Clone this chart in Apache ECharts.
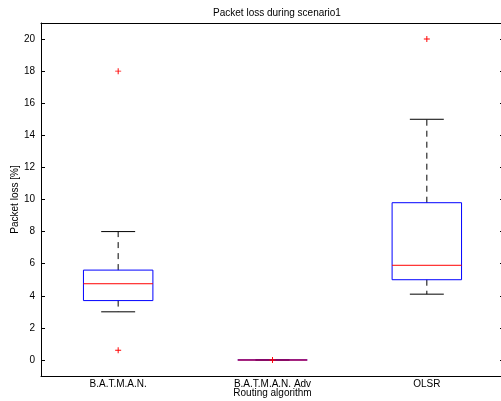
<!DOCTYPE html>
<html>
<head>
    <meta charset="utf-8">
    <title>Packet loss during scenario1</title>
    <script src="https://cdn.jsdelivr.net/npm/echarts@6.0.0/dist/echarts.min.js"></script>
    <style>
        html, body {
            margin: 0;
            padding: 0;
            width: 100%;
            height: 100%;
            overflow: hidden;
            background: #fff;
        }
        #chart {
            width: 501px;
            height: 401px;
        }
    </style>
</head>
<body>
    <div id="chart"></div>
    <script>
        // 数据
        const categories = ['B.A.T.M.A.N.', 'B.A.T.M.A.N. Adv', 'OLSR'];
        const lowerWhisker = [3, 0, 4.1];
        const q1 = [3.7, 0, 5.0];
        const median = [4.75, 0, 5.9];
        const q3 = [5.6, 0, 9.8];
        const upperWhisker = [8, 0, 15];
        // [类别序号, 数值]
        const outliers = [[0, 18], [0, 0.6], [1, 0], [2, 20]];
        const yTicks = [0, 2, 4, 6, 8, 10, 12, 14, 16, 18, 20];

        const font = 'Liberation Sans, Arial, sans-serif';
        const boxData = categories.map((c, i) => [i, lowerWhisker[i], q1[i], median[i], q3[i], upperWhisker[i]]);

        const chart = echarts.init(document.getElementById('chart'), null, { renderer: 'canvas' });

        function renderBox(params, api) {
            const idx = api.value(0);
            const band = api.size([1, 0])[0];
            const halfBox = band * 0.225;
            const halfCap = band * 0.11;
            const pLo = api.coord([idx, api.value(1)]);
            const pQ1 = api.coord([idx, api.value(2)]);
            const pMed = api.coord([idx, api.value(3)]);
            const pQ3 = api.coord([idx, api.value(4)]);
            const pHi = api.coord([idx, api.value(5)]);
            const cx = pMed[0];
            const flat = api.value(2) === api.value(4);
            const dash = { stroke: '#000', lineWidth: 1, lineDash: [6, 5] };
            const solid = { stroke: '#000', lineWidth: 1 };
            return {
                type: 'group',
                children: [
                    { type: 'line', shape: { x1: cx, y1: pQ3[1], x2: cx, y2: pHi[1] }, style: dash },
                    { type: 'line', shape: { x1: cx, y1: pQ1[1], x2: cx, y2: pLo[1] }, style: dash },
                    { type: 'line', shape: { x1: cx - halfCap, y1: pHi[1], x2: cx + halfCap, y2: pHi[1] }, style: solid },
                    { type: 'line', shape: { x1: cx - halfCap, y1: pLo[1], x2: cx + halfCap, y2: pLo[1] }, style: solid },
                    {
                        type: 'rect',
                        shape: { x: cx - halfBox, y: pQ3[1], width: halfBox * 2, height: pQ1[1] - pQ3[1] },
                        style: { fill: 'none', stroke: '#0000ff', lineWidth: 1 }
                    },
                    {
                        type: 'line',
                        shape: { x1: cx - halfBox, y1: pMed[1], x2: cx + halfBox, y2: pMed[1] },
                        style: { stroke: '#ff0000', lineWidth: flat ? 2 : 1, opacity: flat ? 0.5 : 1 }
                    }
                ]
            };
        }

        const option = {
            backgroundColor: '#fff',
            animation: false,
            title: {
                text: 'Packet loss during scenario1',
                left: 272,
                top: 3,
                textAlign: 'center',
                textStyle: { fontFamily: font, fontSize: 10, fontWeight: 'normal', color: '#000' }
            },
            grid: { left: 41, top: 23, width: 463, height: 353, containLabel: false, outerBoundsMode: 'none' },
            xAxis: [{
                type: 'category',
                data: categories,
                position: 'bottom',
                name: 'Routing algorithm',
                nameLocation: 'middle',
                nameGap: 12,
                nameMoveOverlap: false,
                nameTextStyle: { fontFamily: font, fontSize: 10, color: '#000' },
                axisLine: { onZero: false, lineStyle: { color: '#000', width: 1 } },
                axisTick: { inside: true, alignWithLabel: true, length: 4, lineStyle: { color: '#000' } },
                axisLabel: { fontFamily: font, fontSize: 10, color: '#000', margin: 3 },
                splitLine: { show: false }
            }, {
                type: 'category',
                data: categories,
                position: 'top',
                axisLine: { onZero: false, lineStyle: { color: '#000', width: 1 } },
                axisTick: { inside: true, alignWithLabel: true, length: 4, lineStyle: { color: '#000' } },
                axisLabel: { show: false },
                splitLine: { show: false }
            }],
            yAxis: [{
                type: 'value',
                min: -1,
                max: 21,
                position: 'left',
                name: 'Packet loss [%]',
                nameLocation: 'middle',
                nameGap: 21,
                nameMoveOverlap: false,
                nameTextStyle: { fontFamily: font, fontSize: 10, color: '#000' },
                axisLine: { show: true, onZero: false, lineStyle: { color: '#000', width: 1 } },
                axisTick: { show: true, inside: true, length: 4, customValues: yTicks, lineStyle: { color: '#000' } },
                axisLabel: { fontFamily: font, fontSize: 10, color: '#000', margin: 6, customValues: yTicks },
                splitLine: { show: false }
            }, {
                type: 'value',
                min: -1,
                max: 21,
                position: 'right',
                axisLine: { show: true, onZero: false, lineStyle: { color: '#000', width: 1 } },
                axisTick: { show: true, inside: true, length: 4, customValues: yTicks, lineStyle: { color: '#000' } },
                axisLabel: { show: false },
                splitLine: { show: false }
            }],
            series: [{
                type: 'custom',
                renderItem: renderBox,
                data: boxData,
                encode: { x: 0, y: [1, 2, 3, 4, 5] },
                z: 2
            }, {
                type: 'scatter',
                data: outliers,
                symbol: 'path://M0,4.2H10V5.8H0ZM4.2,0H5.8V10H4.2Z',
                symbolSize: 6,
                itemStyle: { color: '#ff0000', opacity: 1 },
                z: 3
            }]
        };

        chart.setOption(option);
    </script>
</body>
</html>
